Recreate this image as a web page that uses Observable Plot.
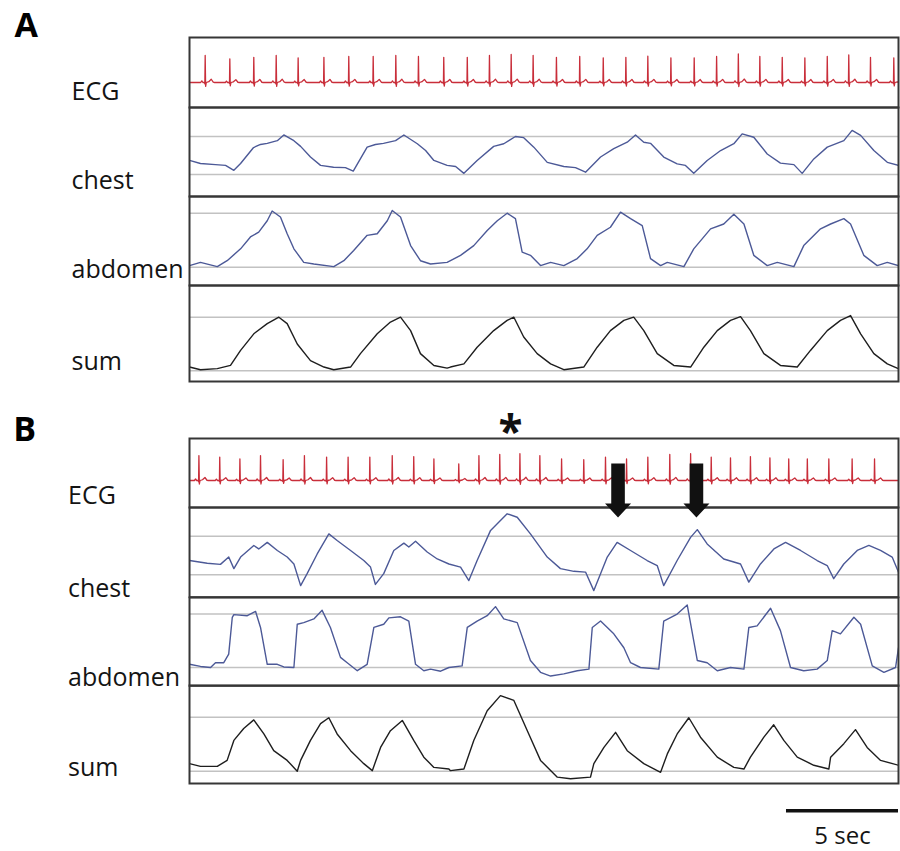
<!DOCTYPE html>
<html><head><meta charset="utf-8">
<script src="https://cdn.jsdelivr.net/npm/d3@7"></script>
<script src="https://cdn.jsdelivr.net/npm/@observablehq/plot@0.6"></script>
<style>
body{margin:0;background:#fff;}
#fig{position:relative;width:900px;height:851px;overflow:hidden;background:#fff;}
</style></head><body><div id="fig"></div>
<script>
// ---------------- data ----------------
const DURATION = 31.65;            // seconds of record shown
const SCALE_BAR = 5;               // seconds
const rowNames = ["ECG", "chest", "abdomen", "sum"];
const panelNames = ["A", "B"];

// ECG: R-peak times (s) and relative R amplitudes
const ecgA_beats = [0.70,1.80,2.87,3.87,4.85,6.00,7.11,8.20,9.21,10.22,11.35,12.40,13.39,14.36,15.34,16.38,17.42,18.47,19.48,20.46,21.49,22.53,23.53,24.50,25.46,26.46,27.47,28.47,29.43,30.40,31.44];
const ecgA_amps  = [1.04,0.91,0.97,1.04,0.95,0.97,1.00,1.00,1.04,1.00,0.97,0.97,1.04,1.08,1.04,0.97,1.00,0.95,0.97,1.01,0.95,0.95,1.00,1.10,1.00,0.97,0.95,1.00,1.06,0.97,0.95];
const ecgB_beats = [0.42,1.35,2.25,3.17,4.18,5.13,6.12,7.08,8.05,9.05,10.01,10.91,12.02,12.92,13.85,14.75,15.64,16.61,17.60,18.57,19.51,20.46,21.44,22.37,23.29,24.15,25.04,25.91,26.75,27.58,28.54,29.58,30.58];
const ecgB_amps  = [0.96,0.90,0.83,0.96,0.80,0.96,0.90,0.90,0.90,0.96,0.92,0.83,0.64,0.96,1.00,1.03,0.96,0.83,0.80,0.90,0.83,0.90,1.00,1.03,0.90,0.87,0.92,0.87,0.83,0.83,0.83,0.83,0.83];
// one PQRST complex: [offset from R (s), relative amplitude]
const ecgComplex = [[-0.20,0],[-0.15,0.06],[-0.10,0],[-0.03,0],[-0.015,-0.05],[0,1],[0.02,-0.14],[0.05,0],[0.16,0.03],[0.27,0.12],[0.36,0.01],[0.42,0]];

// respiratory traces: [time (s), value] — 0 = lower grid line, 1 = upper grid line
const chestA = [[0,0.37],[0.49,0.29],[1.16,0.26],[1.61,0.24],[1.98,0.11],[2.28,0.29],[2.86,0.71],[3.17,0.79],[3.47,0.82],[3.92,0.89],[4.21,1.04],[4.66,0.89],[4.96,0.74],[5.40,0.46],[5.85,0.24],[6.43,0.19],[6.96,0.18],[7.31,0.09],[7.93,0.72],[8.30,0.79],[8.66,0.82],[9.20,0.89],[9.57,1.04],[10.17,0.81],[10.54,0.63],[10.91,0.37],[11.50,0.24],[11.88,0.21],[12.25,0.03],[12.84,0.37],[13.58,0.74],[14.03,0.81],[14.55,1.00],[14.92,0.97],[15.37,0.72],[15.97,0.32],[16.71,0.21],[17.23,0.18],[17.68,0.06],[18.35,0.46],[18.94,0.68],[19.54,0.85],[19.91,1.04],[20.28,0.85],[20.58,0.82],[21.17,0.46],[21.77,0.28],[22.14,0.24],[22.51,0.03],[23.11,0.37],[23.71,0.63],[24.30,0.81],[24.67,1.07],[25.19,0.98],[25.79,0.54],[26.38,0.30],[26.98,0.26],[27.35,0.03],[27.87,0.41],[28.47,0.72],[29.21,0.89],[29.58,1.16],[29.96,1.03],[30.55,0.63],[31.15,0.32],[31.65,0.24]];
const abdomenA = [[0,0.03],[0.49,0.09],[1.24,0.01],[1.68,0.12],[2.28,0.34],[2.72,0.56],[3.09,0.65],[3.47,0.86],[3.69,1.04],[4.06,0.93],[4.36,0.62],[4.66,0.34],[5.10,0.09],[5.55,0.06],[6.44,0.01],[6.89,0.12],[7.33,0.31],[7.93,0.59],[8.38,0.62],[8.83,0.86],[9.05,1.05],[9.42,0.93],[9.87,0.40],[10.31,0.12],[10.76,0.06],[11.50,0.09],[12.10,0.22],[12.69,0.40],[13.29,0.68],[13.74,0.86],[14.18,1.00],[14.55,0.90],[14.85,0.28],[15.22,0.22],[15.67,0.03],[16.12,0.09],[16.71,0.03],[17.31,0.16],[17.75,0.34],[18.20,0.59],[18.79,0.74],[19.24,1.02],[19.69,0.90],[20.21,0.77],[20.58,0.16],[21.03,0.03],[21.33,0.09],[22.07,0.01],[22.51,0.34],[23.26,0.71],[23.85,0.80],[24.30,0.98],[24.75,0.80],[25.19,0.22],[25.79,0.03],[26.24,0.09],[26.98,0.01],[27.42,0.40],[28.17,0.71],[28.62,0.80],[29.21,0.90],[29.51,0.80],[30.10,0.22],[30.70,0.03],[31.15,0.09],[31.65,0.03]];
const sumA = [[0,0.07],[0.49,0.02],[1.24,0.04],[1.83,0.10],[2.28,0.38],[2.87,0.69],[3.47,0.88],[3.99,1.00],[4.36,0.88],[4.81,0.50],[5.40,0.19],[6.00,0.07],[6.44,0.02],[7.19,0.07],[7.63,0.32],[8.38,0.69],[8.97,0.91],[9.42,1.00],[9.87,0.75],[10.31,0.32],[10.91,0.10],[11.50,0.05],[11.65,0.07],[12.25,0.13],[12.84,0.44],[13.58,0.75],[14.18,0.94],[14.48,1.00],[14.92,0.63],[15.52,0.32],[16.12,0.13],[16.71,0.02],[17.60,0.07],[18.20,0.44],[18.79,0.75],[19.39,0.94],[19.83,1.00],[20.28,0.75],[20.88,0.32],[21.62,0.10],[22.37,0.07],[22.96,0.44],[23.56,0.75],[24.15,0.94],[24.60,1.01],[25.04,0.75],[25.64,0.32],[26.38,0.10],[27.13,0.07],[27.72,0.38],[28.47,0.75],[29.06,0.94],[29.51,1.03],[29.96,0.69],[30.55,0.32],[31.15,0.13],[31.65,0.04]];
const chestB = [[0,0.37],[0.79,0.30],[1.38,0.27],[1.75,0.46],[1.98,0.16],[2.28,0.46],[2.87,0.76],[3.09,0.67],[3.47,0.84],[3.92,0.63],[4.36,0.46],[4.66,0.28],[4.96,-0.28],[5.25,0.03],[5.70,0.54],[6.22,1.06],[6.59,0.89],[7.19,0.63],[7.78,0.37],[8.08,0.20],[8.30,-0.25],[8.67,0.03],[9.12,0.63],[9.57,0.82],[9.79,0.72],[10.09,0.87],[10.61,0.59],[11.06,0.41],[11.58,0.28],[12.10,0.20],[12.47,-0.15],[12.84,0.37],[13.44,1.15],[14.18,1.58],[14.63,1.49],[15.22,1.06],[15.97,0.46],[16.56,0.16],[17.16,0.09],[17.68,0.07],[18.05,-0.41],[18.65,0.46],[19.09,0.84],[19.69,0.63],[20.43,0.37],[20.88,0.24],[21.17,-0.28],[21.77,0.37],[22.37,0.97],[22.67,1.17],[23.11,0.80],[23.85,0.41],[24.60,0.28],[24.97,-0.19],[25.49,0.28],[26.09,0.67],[26.61,0.84],[27.28,0.63],[28.02,0.37],[28.47,0.24],[28.76,-0.10],[29.21,0.28],[29.81,0.63],[30.33,0.76],[30.85,0.63],[31.37,0.46],[31.65,0.07]];
const abdomenB = [[0,0.06],[0.49,0.02],[0.94,0.00],[1.16,0.09],[1.53,0.09],[1.75,0.25],[1.91,0.94],[1.98,0.99],[2.58,0.97],[2.95,1.05],[3.17,0.75],[3.47,0.06],[3.92,0.06],[4.21,0.01],[4.66,0],[4.81,0.81],[5.10,0.84],[5.55,0.91],[5.92,1.07],[6.29,0.75],[6.74,0.19],[7.04,0.09],[7.49,-0.06],[7.93,0.06],[8.23,0.75],[8.67,0.81],[8.90,0.93],[9.42,0.95],[9.79,0.87],[10.09,0.06],[10.46,-0.06],[10.76,-0.03],[11.21,-0.07],[11.58,0],[12.17,0.03],[12.40,0.75],[12.84,0.87],[13.29,0.97],[13.66,1.14],[14.03,0.91],[14.63,0.84],[15.22,0.13],[15.67,-0.09],[16.12,-0.16],[16.71,-0.12],[17.31,-0.06],[17.83,-0.03],[17.98,0.75],[18.35,0.87],[18.94,0.63],[19.39,0.37],[19.69,0.09],[20.13,0],[20.95,-0.03],[21.17,0.87],[21.77,1.00],[22.22,1.17],[22.67,0.13],[23.11,0.09],[23.56,-0.06],[24.15,0],[24.75,-0.03],[24.97,0.75],[25.34,0.78],[25.94,1.11],[26.38,0.69],[26.83,0],[27.42,-0.06],[28.02,-0.03],[28.47,0.13],[28.69,0.69],[29.06,0.63],[29.66,0.94],[29.96,0.81],[30.48,0.03],[31.00,-0.09],[31.52,0],[31.65,0.37]];
const sumB = [[0,0.14],[0.49,0.09],[1.24,0.09],[1.68,0.20],[1.98,0.57],[2.42,0.79],[2.87,0.95],[3.32,0.69],[3.76,0.38],[4.36,0.20],[4.81,0],[4.96,0.20],[5.40,0.57],[5.85,0.88],[6.22,0.99],[6.59,0.69],[7.19,0.38],[7.78,0.14],[8.16,0.01],[8.53,0.44],[8.97,0.75],[9.50,0.94],[10.01,0.57],[10.46,0.26],[10.91,0.07],[11.58,0.04],[11.65,0.01],[12.25,0.04],[12.69,0.57],[13.29,1.12],[13.88,1.40],[14.48,1.31],[15.08,0.75],[15.67,0.20],[16.42,-0.11],[17.01,-0.14],[17.90,-0.11],[18.05,0.14],[18.50,0.44],[19.02,0.72],[19.54,0.38],[20.28,0.14],[21.03,-0.02],[21.33,0.32],[21.77,0.69],[22.29,0.99],[22.81,0.63],[23.56,0.26],[24.30,0.07],[24.75,0.04],[25.04,0.26],[25.64,0.63],[26.08,0.86],[26.53,0.57],[27.13,0.26],[27.87,0.11],[28.54,0.04],[28.62,0.26],[29.21,0.51],[29.73,0.77],[30.25,0.44],[30.85,0.20],[31.65,0.11]];

// annotations in panel B
const asteriskTimes = [14.33];
const arrowTimes = [19.13, 22.63];

// ---------------- layout (pixels) ----------------
const LEFT = 189, RIGHT = 898, ECG_PX = 26;
const GEOM = {
  A: {tops:[37,107,196,285], bottom:381, ecgBase:82,
      grids:[null,[174,136],[266.7,212.7],[370.3,316.7]],
      labelBase:[99,188.3,277.7,369], labelX:71, letterX:14, letterBase:36},
  B: {tops:[438,507,596.7,685], bottom:783, ecgBase:480,
      grids:[null,[574.3,535.7],[666.7,613.3],[770.7,716.7]],
      labelBase:[503.3,596.7,685,775.7], labelX:67.5, letterX:12.7, letterBase:440}
};
const COLORS = ["#c92e3a", "#4c5997", "#4c5997", "#1e1e1e"];
const FONT = '"Open Sans", sans-serif';

function ecgSeries(beats, amps) {
  const pts = [[0, 0], [DURATION, 0]];
  beats.forEach((b, i) => ecgComplex.forEach(([dt, a]) => pts.push([b + dt, a * amps[i]])));
  return pts.sort((p, q) => p[0] - q[0]);
}

const traces = {
  A: [ecgSeries(ecgA_beats, ecgA_amps), chestA, abdomenA, sumA],
  B: [ecgSeries(ecgB_beats, ecgB_amps), chestB, abdomenB, sumB]
};

const blockArrow = {
  draw(ctx, l) {
    const sw = 6.8, hw = 13, hl = 14;
    ctx.moveTo(-sw, 0);
    ctx.lineTo(-sw, -(l - hl));
    ctx.lineTo(-hw, -(l - hl));
    ctx.lineTo(0, -l);
    ctx.lineTo(hw, -(l - hl));
    ctx.lineTo(sw, -(l - hl));
    ctx.lineTo(sw, 0);
    ctx.closePath();
  }
};

const fig = document.getElementById("fig");
const xOpt = {domain: [0, DURATION], range: [LEFT, RIGHT], axis: null};
function styleAt(top) {
  return {position: "absolute", left: "0px", top: `${top}px`, background: "transparent",
          overflow: "visible", fontFamily: FONT, fontSize: "24px"};
}

for (const p of panelNames) {
  const g = GEOM[p];
  const svgs = [];
  rowNames.forEach((name, i) => {
    const top = g.tops[i];
    const bottom = i < 3 ? g.tops[i + 1] : g.bottom;
    const h = bottom - top;
    let lowPx, highPx;
    if (i === 0) { lowPx = g.ecgBase; highPx = g.ecgBase - ECG_PX; }
    else { [lowPx, highPx] = g.grids[i]; }
    const k = lowPx - highPx, yl = lowPx - top;
    const yDom = [(yl - h) / k, yl / k];
    const marks = [];
    if (i > 0) marks.push(Plot.ruleY([0, 1], {stroke: "#c2c2c2", strokeWidth: 1.5}));
    marks.push(Plot.line(traces[p][i], {x: d => d[0], y: d => d[1], stroke: COLORS[i],
      strokeWidth: i === 0 ? 1.3 : 1.4, clip: true}));
    marks.push(Plot.frame({stroke: "#363636", strokeWidth: 2}));
    marks.push(Plot.text([name], {text: d => d, frameAnchor: "top-left", dx: g.labelX - LEFT,
      dy: g.labelBase[i] - top, textAnchor: "start", lineAnchor: "bottom", fontSize: 25, fill: "#141414"}));
    if (i === 0) {
      marks.push(Plot.text([p], {text: d => d, frameAnchor: "top-left", dx: g.letterX - LEFT,
        dy: g.letterBase - top, textAnchor: "start", lineAnchor: "bottom", fontSize: 34,
        fontWeight: "bold", fill: "#000"}));
      if (p === "B") {
        marks.push(Plot.text(asteriskTimes, {x: d => d, text: () => "*", frameAnchor: "top",
          dy: 446 - top, lineAnchor: "bottom", fontSize: 44, fontWeight: "bold", fill: "#111"}));
        marks.push(Plot.vector(arrowTimes, {x: d => d, frameAnchor: "top", dy: 463 - top,
          length: 54, rotate: 180, anchor: "start", shape: blockArrow, fill: "#111", stroke: "none"}));
      }
    }
    svgs.push(Plot.plot({
      width: 900, height: h, marginLeft: LEFT, marginRight: 900 - RIGHT, marginTop: 0, marginBottom: 0,
      x: xOpt, y: {domain: yDom, range: [h, 0], axis: null},
      style: styleAt(top), marks
    }));
  });
  // draw lower rows first so the ECG row (with annotations) sits on top
  svgs.slice().reverse().forEach(s => fig.appendChild(s));
}

// scale bar
fig.appendChild(Plot.plot({
  width: 900, height: 60, marginLeft: LEFT, marginRight: 900 - RIGHT, marginTop: 0, marginBottom: 56.5,
  x: xOpt, style: styleAt(808.5),
  marks: [
    Plot.rect([SCALE_BAR], {x1: d => DURATION - d, x2: DURATION, fill: "#111"}),
    Plot.text([SCALE_BAR], {x: d => DURATION - d / 2, text: d => `${d} sec`, frameAnchor: "top",
      dy: 34.8, lineAnchor: "bottom", fontSize: 24, fill: "#141414"})
  ]
}));
</script></body></html>
